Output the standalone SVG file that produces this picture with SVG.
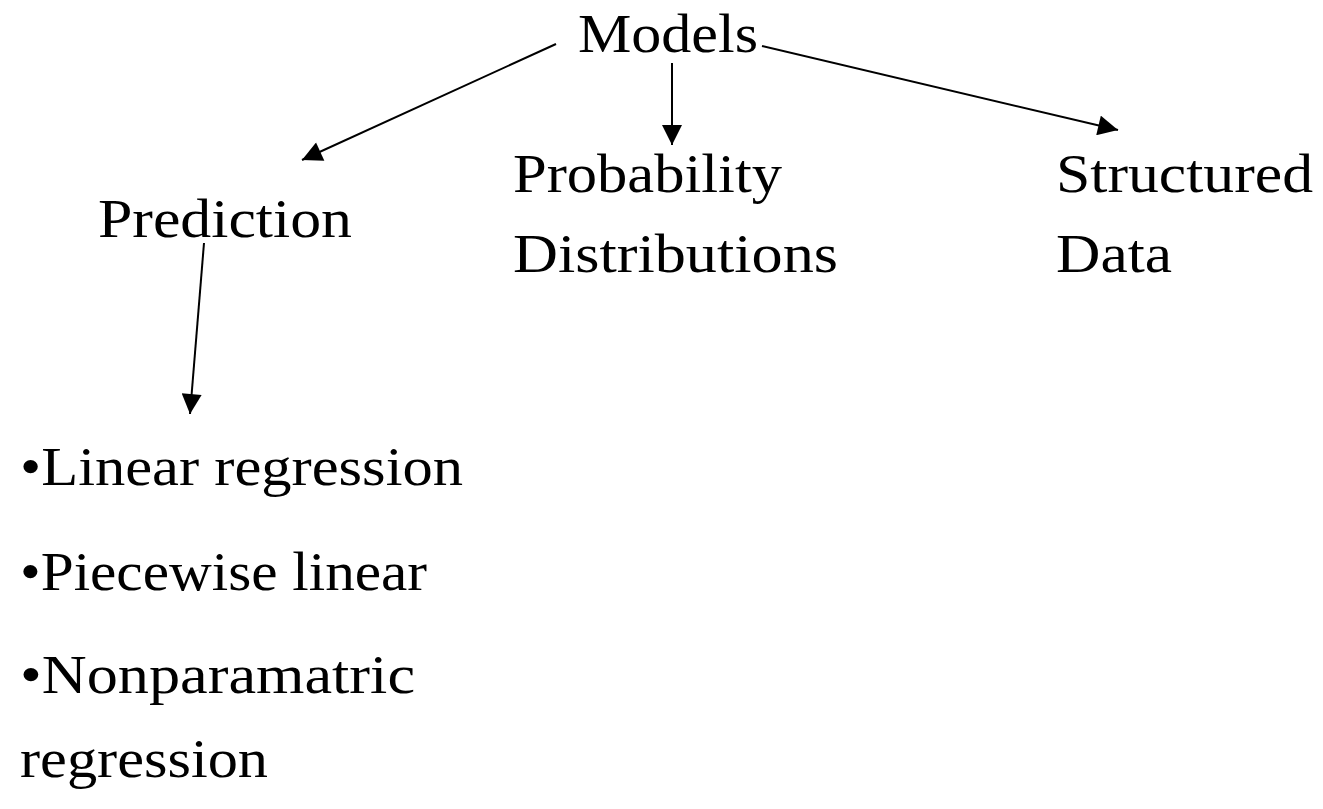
<svg xmlns="http://www.w3.org/2000/svg" width="1323" height="809" viewBox="0 0 1323 809">
  <style>
    .lbl { font-family: "Liberation Serif", "Times New Roman", serif; font-size: 54px; fill: #000; }
    .edge { stroke: #000; stroke-width: 2; fill: none; marker-end: url(#arrow); }
  </style>
  <defs>
    <marker id="arrow" viewBox="0 0 10 10" refX="10" refY="5" markerWidth="11" markerHeight="11" markerUnits="userSpaceOnUse" orient="auto">
      <path d="M0,0 L10,5 L0,10 Z" fill="#000"/>
    </marker>
    <marker id="arrowhead" viewBox="0 0 20 20" refX="20" refY="10" markerWidth="22" markerHeight="20" markerUnits="userSpaceOnUse" orient="auto">
      <path d="M0,0 L20,10 L0,20 Z" fill="#000"/>
    </marker>
  </defs>
  <rect width="1323" height="809" fill="#fff"/>

  <g id="connectors">
    <line x1="556" y1="44" x2="302" y2="160" stroke="#000" stroke-width="2" marker-end="url(#arrowhead)"/>
    <line x1="672" y1="63" x2="672" y2="145" stroke="#000" stroke-width="2" marker-end="url(#arrowhead)"/>
    <line x1="762" y1="46" x2="1118" y2="130" stroke="#000" stroke-width="2" marker-end="url(#arrowhead)"/>
    <line x1="204" y1="243" x2="190" y2="414" stroke="#000" stroke-width="2" marker-end="url(#arrowhead)"/>
  </g>

  <g id="node-models">
    <text class="lbl" x="578" y="52" textLength="180" lengthAdjust="spacingAndGlyphs">Models</text>
  </g>
  <g id="node-prediction">
    <text class="lbl" x="98" y="237" textLength="254" lengthAdjust="spacingAndGlyphs">Prediction</text>
  </g>
  <g id="node-probability">
    <text class="lbl" x="513" y="192" textLength="269" lengthAdjust="spacingAndGlyphs">Probability</text>
    <text class="lbl" x="513" y="272" textLength="325" lengthAdjust="spacingAndGlyphs">Distributions</text>
  </g>
  <g id="node-structured">
    <text class="lbl" x="1056" y="192" textLength="257" lengthAdjust="spacingAndGlyphs">Structured</text>
    <text class="lbl" x="1056" y="272" textLength="116" lengthAdjust="spacingAndGlyphs">Data</text>
  </g>
  <g id="node-methods">
    <text class="lbl" x="20" y="485" textLength="443" lengthAdjust="spacingAndGlyphs">•Linear regression</text>
    <text class="lbl" x="20" y="590" textLength="407" lengthAdjust="spacingAndGlyphs">•Piecewise linear</text>
    <text class="lbl" x="20" y="693" textLength="395" lengthAdjust="spacingAndGlyphs">•Nonparamatric</text>
    <text class="lbl" x="20" y="777" textLength="248" lengthAdjust="spacingAndGlyphs">regression</text>
  </g>
</svg>
